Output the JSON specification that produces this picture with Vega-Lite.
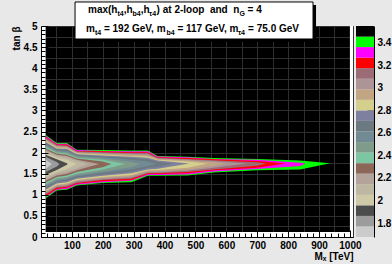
{
  "$schema": "https://vega.github.io/schema/vega-lite/v6.json",
  "background": "#e8e8e8",
  "padding": {"left": 10, "top": 0, "right": 2, "bottom": 2},
  "bounds": "flush",
  "spacing": 3,
  "config": {
    "font": "Liberation Sans",
    "axis": {"labelFont": "Liberation Sans", "labelFontWeight": "bold", "labelFontSize": 10, "labelColor": "black", "titleFont": "Liberation Sans", "titleFontWeight": "bold", "titleFontSize": 10, "titleColor": "black", "domainColor": "black", "tickColor": "black", "labelOverlap": false, "labelFlush": false},
    "text": {"font": "Liberation Sans", "fontWeight": "bold", "fontSize": 10, "align": "left", "baseline": "alphabetic", "color": "black"}
  },
  "hconcat": [
    {
      "width": 312,
      "height": 211,
      "view": {"fill": "black", "stroke": "#333", "strokeWidth": 1},
      "resolve": {"axis": {"x": "independent", "y": "independent"}},
      "layer": [
        {
          "data": {"values": [{}]},
          "layer": [
            {"mark": {"type": "rect", "color": "white"},
             "encoding": {
               "x": {"datum": 0, "scale": {"domain": [0, 1010], "nice": false, "zero": false}, "axis": {"orient": "bottom", "values": [50,100,150,200,250,300,350,400,450,500,550,600,650,700,750,800,850,900,950,1000], "grid": true, "gridColor": "#2e2e2e", "ticks": false, "labels": false, "domain": false, "title": null, "zindex": 0}},
               "x2": {"datum": 15},
               "y": {"datum": 0, "scale": {"domain": [0, 5], "nice": false, "zero": false}, "axis": {"orient": "left", "values": [0.25,0.5,0.75,1,1.25,1.5,1.75,2,2.25,2.5,2.75,3,3.25,3.5,3.75,4,4.25,4.5,4.75], "grid": true, "gridColor": "#2e2e2e", "ticks": false, "labels": false, "domain": false, "title": null, "zindex": 0}},
               "y2": {"datum": 5}}},
            {"mark": {"type": "rect", "color": "white"},
             "encoding": {
               "x": {"datum": 0, "scale": {"domain": [0, 1010], "nice": false, "zero": false}, "axis": {"orient": "bottom", "values": [50,100,150,200,250,300,350,400,450,500,550,600,650,700,750,800,850,900,950,1000], "grid": true, "gridColor": "#2e2e2e", "ticks": false, "labels": false, "domain": false, "title": null, "zindex": 0}},
               "x2": {"datum": 1010},
               "y": {"datum": 0, "scale": {"domain": [0, 5], "nice": false, "zero": false}, "axis": {"orient": "left", "values": [0.25,0.5,0.75,1,1.25,1.5,1.75,2,2.25,2.5,2.75,3,3.25,3.5,3.75,4,4.25,4.5,4.75], "grid": true, "gridColor": "#2e2e2e", "ticks": false, "labels": false, "domain": false, "title": null, "zindex": 0}},
               "y2": {"datum": 0.12}}},
            {"mark": {"type": "rect", "color": "white"},
             "encoding": {
               "x": {"datum": 1000, "scale": {"domain": [0, 1010], "nice": false, "zero": false}, "axis": {"orient": "bottom", "values": [50,100,150,200,250,300,350,400,450,500,550,600,650,700,750,800,850,900,950,1000], "grid": true, "gridColor": "#2e2e2e", "ticks": false, "labels": false, "domain": false, "title": null, "zindex": 0}},
               "x2": {"datum": 1010},
               "y": {"datum": 0, "scale": {"domain": [0, 5], "nice": false, "zero": false}, "axis": {"orient": "left", "values": [0.25,0.5,0.75,1,1.25,1.5,1.75,2,2.25,2.5,2.75,3,3.25,3.5,3.75,4,4.25,4.5,4.75], "grid": true, "gridColor": "#2e2e2e", "ticks": false, "labels": false, "domain": false, "title": null, "zindex": 0}},
               "y2": {"datum": 5}}}
          ]
        },
        {
          "data": {"values": [
            {"band":18,"x":15,"hi":2.42,"lo":0.92},{"band":18,"x":51,"hi":2.23,"lo":1.10},{"band":18,"x":84,"hi":2.23,"lo":1.12},{"band":18,"x":116,"hi":2.07,"lo":1.22},{"band":18,"x":200,"hi":2.06,"lo":1.28},{"band":18,"x":293,"hi":2.05,"lo":1.30},{"band":18,"x":346,"hi":2.05,"lo":1.45},{"band":18,"x":378,"hi":1.92,"lo":1.45},{"band":18,"x":475,"hi":1.90,"lo":1.46},{"band":18,"x":560,"hi":1.87,"lo":1.53},{"band":18,"x":700,"hi":1.85,"lo":1.58},{"band":18,"x":839,"hi":1.81,"lo":1.60},{"band":18,"x":936,"hi":1.75,"lo":1.75},
            {"band":17,"x":15,"hi":2.40,"lo":0.95},{"band":17,"x":51,"hi":2.21,"lo":1.12},{"band":17,"x":84,"hi":2.21,"lo":1.14},{"band":17,"x":116,"hi":2.06,"lo":1.24},{"band":17,"x":200,"hi":2.04,"lo":1.30},{"band":17,"x":293,"hi":2.03,"lo":1.33},{"band":17,"x":346,"hi":2.03,"lo":1.47},{"band":17,"x":378,"hi":1.91,"lo":1.47},{"band":17,"x":475,"hi":1.89,"lo":1.48},{"band":17,"x":560,"hi":1.85,"lo":1.55},{"band":17,"x":700,"hi":1.83,"lo":1.61},{"band":17,"x":839,"hi":1.76,"lo":1.68},{"band":17,"x":857,"hi":1.74,"lo":1.74},
            {"band":16,"x":15,"hi":2.37,"lo":0.97},{"band":16,"x":51,"hi":2.19,"lo":1.14},{"band":16,"x":84,"hi":2.19,"lo":1.17},{"band":16,"x":116,"hi":2.04,"lo":1.26},{"band":16,"x":200,"hi":2.03,"lo":1.32},{"band":16,"x":293,"hi":2.01,"lo":1.35},{"band":16,"x":346,"hi":2.01,"lo":1.49},{"band":16,"x":378,"hi":1.89,"lo":1.49},{"band":16,"x":475,"hi":1.87,"lo":1.51},{"band":16,"x":560,"hi":1.84,"lo":1.58},{"band":16,"x":700,"hi":1.80,"lo":1.64},{"band":16,"x":791,"hi":1.74,"lo":1.74},
            {"band":15,"x":15,"hi":2.35,"lo":1.00},{"band":15,"x":51,"hi":2.18,"lo":1.17},{"band":15,"x":84,"hi":2.17,"lo":1.19},{"band":15,"x":116,"hi":2.03,"lo":1.28},{"band":15,"x":200,"hi":2.01,"lo":1.35},{"band":15,"x":293,"hi":1.99,"lo":1.38},{"band":15,"x":346,"hi":1.99,"lo":1.51},{"band":15,"x":378,"hi":1.88,"lo":1.51},{"band":15,"x":475,"hi":1.85,"lo":1.54},{"band":15,"x":560,"hi":1.82,"lo":1.60},{"band":15,"x":700,"hi":1.77,"lo":1.69},{"band":15,"x":729,"hi":1.74,"lo":1.74},
            {"band":14,"x":15,"hi":2.33,"lo":1.03},{"band":14,"x":51,"hi":2.16,"lo":1.19},{"band":14,"x":84,"hi":2.15,"lo":1.22},{"band":14,"x":116,"hi":2.01,"lo":1.31},{"band":14,"x":200,"hi":1.99,"lo":1.37},{"band":14,"x":293,"hi":1.97,"lo":1.41},{"band":14,"x":346,"hi":1.96,"lo":1.53},{"band":14,"x":378,"hi":1.86,"lo":1.53},{"band":14,"x":475,"hi":1.83,"lo":1.57},{"band":14,"x":560,"hi":1.80,"lo":1.64},{"band":14,"x":665,"hi":1.74,"lo":1.74},
            {"band":13,"x":15,"hi":2.30,"lo":1.06},{"band":13,"x":51,"hi":2.14,"lo":1.22},{"band":13,"x":84,"hi":2.13,"lo":1.24},{"band":13,"x":116,"hi":2.00,"lo":1.33},{"band":13,"x":200,"hi":1.97,"lo":1.40},{"band":13,"x":293,"hi":1.95,"lo":1.44},{"band":13,"x":346,"hi":1.94,"lo":1.55},{"band":13,"x":378,"hi":1.85,"lo":1.56},{"band":13,"x":475,"hi":1.81,"lo":1.60},{"band":13,"x":560,"hi":1.77,"lo":1.68},{"band":13,"x":599,"hi":1.74,"lo":1.74},
            {"band":12,"x":15,"hi":2.28,"lo":1.09},{"band":12,"x":51,"hi":2.12,"lo":1.24},{"band":12,"x":84,"hi":2.11,"lo":1.27},{"band":12,"x":116,"hi":1.98,"lo":1.35},{"band":12,"x":200,"hi":1.95,"lo":1.42},{"band":12,"x":293,"hi":1.92,"lo":1.47},{"band":12,"x":346,"hi":1.91,"lo":1.58},{"band":12,"x":378,"hi":1.83,"lo":1.59},{"band":12,"x":475,"hi":1.79,"lo":1.64},{"band":12,"x":538,"hi":1.74,"lo":1.74},
            {"band":11,"x":15,"hi":2.25,"lo":1.12},{"band":11,"x":51,"hi":2.10,"lo":1.27},{"band":11,"x":84,"hi":2.09,"lo":1.30},{"band":11,"x":116,"hi":1.96,"lo":1.38},{"band":11,"x":200,"hi":1.93,"lo":1.45},{"band":11,"x":293,"hi":1.90,"lo":1.51},{"band":11,"x":346,"hi":1.88,"lo":1.60},{"band":11,"x":378,"hi":1.81,"lo":1.62},{"band":11,"x":480,"hi":1.74,"lo":1.74},
            {"band":10,"x":15,"hi":2.23,"lo":1.15},{"band":10,"x":51,"hi":2.08,"lo":1.30},{"band":10,"x":84,"hi":2.06,"lo":1.33},{"band":10,"x":116,"hi":1.95,"lo":1.41},{"band":10,"x":200,"hi":1.91,"lo":1.48},{"band":10,"x":293,"hi":1.87,"lo":1.55},{"band":10,"x":346,"hi":1.84,"lo":1.64},{"band":10,"x":378,"hi":1.78,"lo":1.66},{"band":10,"x":427,"hi":1.74,"lo":1.74},
            {"band":9,"x":15,"hi":2.20,"lo":1.18},{"band":9,"x":51,"hi":2.05,"lo":1.32},{"band":9,"x":84,"hi":2.04,"lo":1.36},{"band":9,"x":116,"hi":1.93,"lo":1.44},{"band":9,"x":200,"hi":1.89,"lo":1.52},{"band":9,"x":293,"hi":1.83,"lo":1.60},{"band":9,"x":346,"hi":1.79,"lo":1.68},{"band":9,"x":374,"hi":1.73,"lo":1.73},
            {"band":8,"x":15,"hi":2.17,"lo":1.22},{"band":8,"x":51,"hi":2.03,"lo":1.35},{"band":8,"x":84,"hi":2.01,"lo":1.39},{"band":8,"x":116,"hi":1.91,"lo":1.47},{"band":8,"x":200,"hi":1.86,"lo":1.55},{"band":8,"x":293,"hi":1.78,"lo":1.66},{"band":8,"x":321,"hi":1.73,"lo":1.73},
            {"band":7,"x":15,"hi":2.14,"lo":1.25},{"band":7,"x":51,"hi":2.00,"lo":1.39},{"band":7,"x":84,"hi":1.98,"lo":1.42},{"band":7,"x":116,"hi":1.88,"lo":1.50},{"band":7,"x":200,"hi":1.83,"lo":1.60},{"band":7,"x":272,"hi":1.73,"lo":1.73},
            {"band":6,"x":15,"hi":2.10,"lo":1.29},{"band":6,"x":51,"hi":1.98,"lo":1.42},{"band":6,"x":84,"hi":1.95,"lo":1.46},{"band":6,"x":116,"hi":1.86,"lo":1.54},{"band":6,"x":200,"hi":1.79,"lo":1.65},{"band":6,"x":228,"hi":1.73,"lo":1.73},
            {"band":5,"x":15,"hi":2.07,"lo":1.33},{"band":5,"x":51,"hi":1.95,"lo":1.46},{"band":5,"x":84,"hi":1.92,"lo":1.50},{"band":5,"x":116,"hi":1.83,"lo":1.58},{"band":5,"x":188,"hi":1.73,"lo":1.73},
            {"band":4,"x":15,"hi":2.03,"lo":1.37},{"band":4,"x":51,"hi":1.92,"lo":1.50},{"band":4,"x":84,"hi":1.88,"lo":1.55},{"band":4,"x":116,"hi":1.80,"lo":1.63},{"band":4,"x":152,"hi":1.73,"lo":1.73},
            {"band":3,"x":15,"hi":1.99,"lo":1.42},{"band":3,"x":51,"hi":1.88,"lo":1.54},{"band":3,"x":84,"hi":1.83,"lo":1.61},{"band":3,"x":116,"hi":1.73,"lo":1.73},
            {"band":2,"x":15,"hi":1.95,"lo":1.47},{"band":2,"x":51,"hi":1.84,"lo":1.59},{"band":2,"x":84,"hi":1.75,"lo":1.71},{"band":2,"x":86,"hi":1.73,"lo":1.73},
            {"band":1,"x":15,"hi":1.90,"lo":1.54},{"band":1,"x":51,"hi":1.78,"lo":1.67},{"band":1,"x":60,"hi":1.73,"lo":1.73},
            {"band":0,"x":15,"hi":1.83,"lo":1.61},{"band":0,"x":35,"hi":1.73,"lo":1.73}
          ]},
          "mark": {"type": "area", "opacity": 1, "strokeWidth": 0, "line": false},
          "encoding": {
            "x": {"field": "x", "type": "quantitative", "scale": {"domain": [0, 1010], "nice": false, "zero": false},
                  "axis": {"orient": "bottom", "values": [0,20,40,60,80,100,120,140,160,180,200,220,240,260,280,300,320,340,360,380,400,420,440,460,480,500,520,540,560,580,600,620,640,660,680,700,720,740,760,780,800,820,840,860,880,900,920,940,960,980,1000],
                           "grid": false, "zindex": 1, "tickSize": {"condition": {"test": "datum.value % 100 === 0", "value": -7}, "value": -4},
                           "labelExpr": "datum.value % 100 === 0 && datum.value > 0 ? '' + datum.value : ''", "labelPadding": 10,
                           "title": "Mₓ [TeV]", "titleAnchor": "end", "titlePadding": -2}},
            "y": {"field": "hi", "type": "quantitative", "stack": null, "scale": {"domain": [0, 5], "nice": false, "zero": false},
                  "axis": {"orient": "left", "values": [0,0.1,0.2,0.3,0.4,0.5,0.6,0.7,0.8,0.9,1,1.1,1.2,1.3,1.4,1.5,1.6,1.7,1.8,1.9,2,2.1,2.2,2.3,2.4,2.5,2.6,2.7,2.8,2.9,3,3.1,3.2,3.3,3.4,3.5,3.6,3.7,3.8,3.9,4,4.1,4.2,4.3,4.4,4.5,4.6,4.7,4.8,4.9,5],
                           "grid": false, "zindex": 1, "tickSize": {"condition": {"test": "abs(datum.value*2 - round(datum.value*2)) < 0.001", "value": -7}, "value": -4},
                           "labelExpr": "abs(datum.value*2 - round(datum.value*2)) < 0.001 ? '' + round(datum.value*10)/10 : ''", "labelPadding": 11,
                           "title": "tan β", "titleAnchor": "end", "titlePadding": 2}},
            "y2": {"field": "lo"},
            "color": {"field": "band", "type": "ordinal", "legend": null,
                      "scale": {"domain": [0,1,2,3,4,5,6,7,8,9,10,11,12,13,14,15,16,17,18,19],
                                "range": ["#cbcbcb","#9c9c9c","#4c4c4c","#cfc9a8","#bdb6a1","#b4a39b","#8c6757","#7dc6a3","#7f9c8a","#728a94","#6b7a80","#7f7f9f","#d4cf8c","#c2a583","#ad9497","#9b6b76","#ff0000","#ff00ff","#00ff00","#000000"]}}
          }
        },
        {
          "data": {"values": [{}]},
          "layer": [
            {"mark": {"type": "rect", "color": "black", "xOffset": 3, "x2Offset": 3, "yOffset": 3, "y2Offset": 3},
             "encoding": {"x": {"datum": 110.2, "scale": {"domain": [0, 1010], "nice": false, "zero": false}, "axis": null}, "x2": {"datum": 880.6},
                          "y": {"datum": 5.569, "scale": {"domain": [0, 5], "nice": false, "zero": false}, "axis": null}, "y2": {"datum": 4.692}}},
            {"mark": {"type": "rect", "fill": "white", "stroke": "black", "strokeWidth": 1},
             "encoding": {"x": {"datum": 110.2, "scale": {"domain": [0, 1010], "nice": false, "zero": false}, "axis": null}, "x2": {"datum": 880.6},
                          "y": {"datum": 5.569, "scale": {"domain": [0, 5], "nice": false, "zero": false}, "axis": null}, "y2": {"datum": 4.692}}},
            {
              "encoding": {"x": {"datum": 152.2, "scale": {"domain": [0, 1010], "nice": false, "zero": false}, "axis": null},
                           "y": {"datum": 5.308, "scale": {"domain": [0, 5], "nice": false, "zero": false}, "axis": null}},
              "layer": [
                {"mark": {"type": "text", "text": "max(h", "dx": 0}},
                {"mark": {"type": "text", "text": "t4", "dx": 29.45, "dy": 3, "fontSize": 7}},
                {"mark": {"type": "text", "text": ",h", "dx": 35.67}},
                {"mark": {"type": "text", "text": "b4", "dx": 44.56, "dy": 3, "fontSize": 7}},
                {"mark": {"type": "text", "text": ",h", "dx": 52.73}},
                {"mark": {"type": "text", "text": "τ4", "dx": 61.0, "dy": 3, "fontSize": 7}},
                {"mark": {"type": "text", "text": ")\u00a0at\u00a02-loop\u00a0\u00a0and\u00a0\u00a0n", "dx": 68.6}},
                {"mark": {"type": "text", "text": "G", "dx": 151.4, "dy": 3, "fontSize": 7}},
                {"mark": {"type": "text", "text": "=\u00a04", "dx": 159.6}}
              ]
            },
            {
              "encoding": {"x": {"datum": 145.7, "scale": {"domain": [0, 1010], "nice": false, "zero": false}, "axis": null},
                           "y": {"datum": 4.858, "scale": {"domain": [0, 5], "nice": false, "zero": false}, "axis": null}},
              "layer": [
                {"mark": {"type": "text", "text": "m", "dx": 0}},
                {"mark": {"type": "text", "text": "t4", "dx": 8.89, "dy": 3, "fontSize": 7}},
                {"mark": {"type": "text", "text": "=\u00a0192\u00a0GeV,\u00a0m", "dx": 17.89}},
                {"mark": {"type": "text", "text": "b4", "dx": 80.43, "dy": 3, "fontSize": 7}},
                {"mark": {"type": "text", "text": "=\u00a0117\u00a0GeV,\u00a0m", "dx": 91.38}},
                {"mark": {"type": "text", "text": "τ4", "dx": 151.9, "dy": 3, "fontSize": 7}},
                {"mark": {"type": "text", "text": "=\u00a075.0\u00a0GeV", "dx": 162.1}}
              ]
            }
          ]
        }
      ]
    },
    {
      "width": 18,
      "height": 211,
      "view": {"stroke": null},
      "data": {"values": [
        {"band":0,"lo":1.676,"hi":1.770},{"band":1,"lo":1.770,"hi":1.863},{"band":2,"lo":1.863,"hi":1.957},{"band":3,"lo":1.957,"hi":2.050},
        {"band":4,"lo":2.050,"hi":2.144},{"band":5,"lo":2.144,"hi":2.238},{"band":6,"lo":2.238,"hi":2.331},{"band":7,"lo":2.331,"hi":2.425},
        {"band":8,"lo":2.425,"hi":2.518},{"band":9,"lo":2.518,"hi":2.612},{"band":10,"lo":2.612,"hi":2.706},{"band":11,"lo":2.706,"hi":2.799},
        {"band":12,"lo":2.799,"hi":2.893},{"band":13,"lo":2.893,"hi":2.986},{"band":14,"lo":2.986,"hi":3.080},{"band":15,"lo":3.080,"hi":3.174},
        {"band":16,"lo":3.174,"hi":3.267},{"band":17,"lo":3.267,"hi":3.361},{"band":18,"lo":3.361,"hi":3.454},{"band":19,"lo":3.454,"hi":3.548}
      ]},
      "mark": {"type": "rect"},
      "encoding": {
        "y": {"field": "lo", "type": "quantitative", "scale": {"domain": [1.676, 3.548], "nice": false, "zero": false},
              "axis": {"orient": "right", "values": [1.8,2,2.2,2.4,2.6,2.8,3,3.2,3.4], "labelExpr": "'' + round(datum.value*10)/10",
                       "tickSize": -7, "labelPadding": 10, "grid": false, "title": null, "domain": true, "tickColor": "#222"}},
        "y2": {"field": "hi"},
        "color": {"field": "band", "type": "ordinal", "legend": null,
                  "scale": {"domain": [0,1,2,3,4,5,6,7,8,9,10,11,12,13,14,15,16,17,18,19],
                            "range": ["#cbcbcb","#9c9c9c","#4c4c4c","#cfc9a8","#bdb6a1","#b4a39b","#8c6757","#7dc6a3","#7f9c8a","#728a94","#6b7a80","#7f7f9f","#d4cf8c","#c2a583","#ad9497","#9b6b76","#ff0000","#ff00ff","#00ff00","#000000"]}}
      }
    }
  ]
}
